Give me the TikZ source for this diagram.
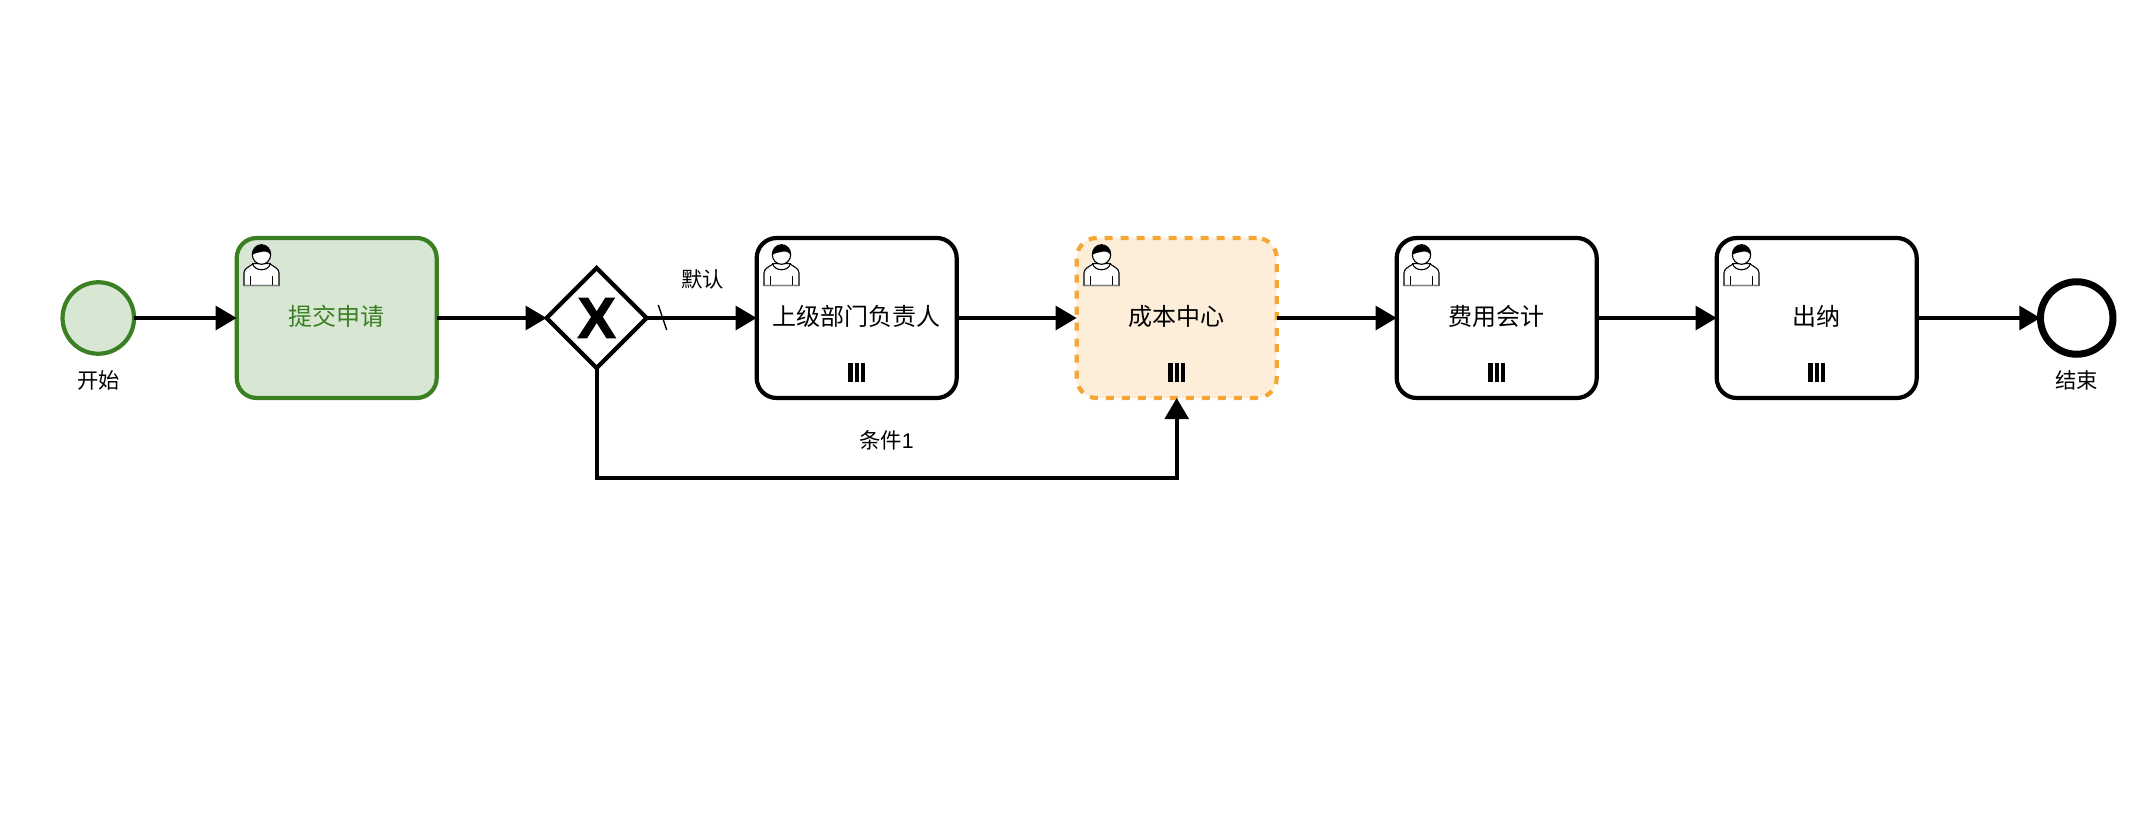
\documentclass[tikz,border=0pt]{standalone}
\usepackage{fontspec}
\setmainfont{Liberation Sans}
\newfontfamily\cjk{Noto Sans CJK SC}
\newfontfamily\gatefont[FakeBold=1.6]{Liberation Sans Bold}
\usetikzlibrary{arrows.meta,shapes.geometric}
\definecolor{gstroke}{HTML}{3B7F23}
\definecolor{gfill}{HTML}{D8E7D4}
\definecolor{ostroke}{HTML}{F5A636}
\definecolor{ofill}{HTML}{FDEEDA}
\tikzset{
  task/.style={draw=black,fill=white,rectangle,rounded corners=20pt,line width=4.2pt,minimum width=200pt,minimum height=160pt,inner sep=0pt,outer sep=0pt,text height=20pt,text depth=4.8pt,font=\cjk\fontsize{24}{28}\selectfont},
  greentask/.style={task,draw=gstroke,fill=gfill,text=gstroke},
  orangetask/.style={task,draw=ostroke,fill=ofill,dash pattern=on 8pt off 8pt},
  startev/.style={circle,draw=gstroke,fill=gfill,line width=4.2pt,minimum size=71.5pt,inner sep=0pt,outer sep=0pt},
  endev/.style={circle,draw=black,fill=white,line width=7pt,minimum size=72.5pt,inner sep=0pt,outer sep=0pt},
  gate/.style={diamond,draw=black,fill=white,line width=4.2pt,minimum width=100pt,minimum height=100pt,inner sep=0pt,outer sep=0pt,font=\gatefont\fontsize{58}{58}\selectfont},
  lbl/.style={inner sep=0pt,font=\cjk\fontsize{21.33}{25}\selectfont},
  flow/.style={line width=4.2pt,-{Triangle[length=21pt,width=23.5pt]}},
  usericon/.pic={
    \draw[fill=white,line width=1.1pt] (0,40.5) -- (0,28) .. controls (0,24) and (4,22) .. (10,18.5) -- (25,18.5) .. controls (31,22) and (35,24) .. (35,28) -- (35,40.5) -- cycle;
    \draw[fill=white,line width=1.1pt] (17.5,9.5) ellipse (9.2pt and 9.8pt);
    \draw[line width=1.1pt] (8.5,18) .. controls (10,27) and (25,27) .. (26.5,18);
    \draw[line width=1.1pt] (6.7,31) -- (6.7,40.5) (28.3,31) -- (28.3,40.5);
    \draw[line width=1.3pt,gray] (0,40.5) -- (35,40.5);
    \fill[black] (8.3,10) .. controls (8.3,3) and (13,0) .. (17.5,0) .. controls (22,0) and (26.7,3) .. (26.7,10) .. controls (24,6) and (20,6) .. (17,7) .. controls (13,8) and (10,8) .. (8.3,10) -- cycle;
  },
  barsmark/.pic={
    \fill[black] (-8.4,-35.3) rectangle (-4.2,-16.3);
    \fill[black] (-2.1,-35.3) rectangle (2.1,-16.3);
    \fill[black] (4.2,-35.3) rectangle (8.4,-16.3);
  }
}
\begin{document}
\begin{tikzpicture}[x=1pt,y=-1pt]
\useasboundingbox[fill=white] (0,0) rectangle (2148,826);
\node[startev] (start) at (98.3,318) {};
\node[lbl] (startl) at (98.5,380) {开始};
\node[greentask] (t1) at (336.7,318) {提交申请};
\node[gate] (gw) at (596.7,318) {X};
\node[task] (t2) at (856.7,318) {上级部门负责人};
\node[orangetask] (t3) at (1176.7,318) {成本中心};
\node[task] (t4) at (1496.7,318) {费用会计};
\node[task] (t5) at (1816.7,318) {出纳};
\node[endev] (end) at (2076.7,318) {};
\node[lbl] (endl) at (2076.7,380) {结束};
\node[lbl] (deflbl) at (702.5,279.5) {默认};
\node[lbl] (condlbl) at (886.5,440) {条件{\rmfamily 1}};
\foreach \t in {t1,t2,t3,t4,t5} \pic at ([shift={(7.3,7)}]\t.north west) {usericon};
\foreach \t in {t2,t3,t4,t5} \pic at (\t.south) {barsmark};
\draw[flow] (start) -- (t1);
\draw[flow] (t1) -- (gw);
\draw[flow] (gw) -- (t2);
\draw[flow] (t2) -- (t3);
\draw[flow] (t3) -- (t4);
\draw[flow] (t4) -- (t5);
\draw[flow] (t5) -- (end);
\coordinate (c1) at (596.7,477.7);
\coordinate (c2) at (1176.7,477.7);
\draw[flow] (gw.south) -- (c1) -- (c2) -- (t3.south);
\coordinate (s1) at (658.3,305);
\coordinate (s2) at (666.7,330);
\draw[line width=1.4pt] (s1) -- (s2);
\end{tikzpicture}
\end{document}
